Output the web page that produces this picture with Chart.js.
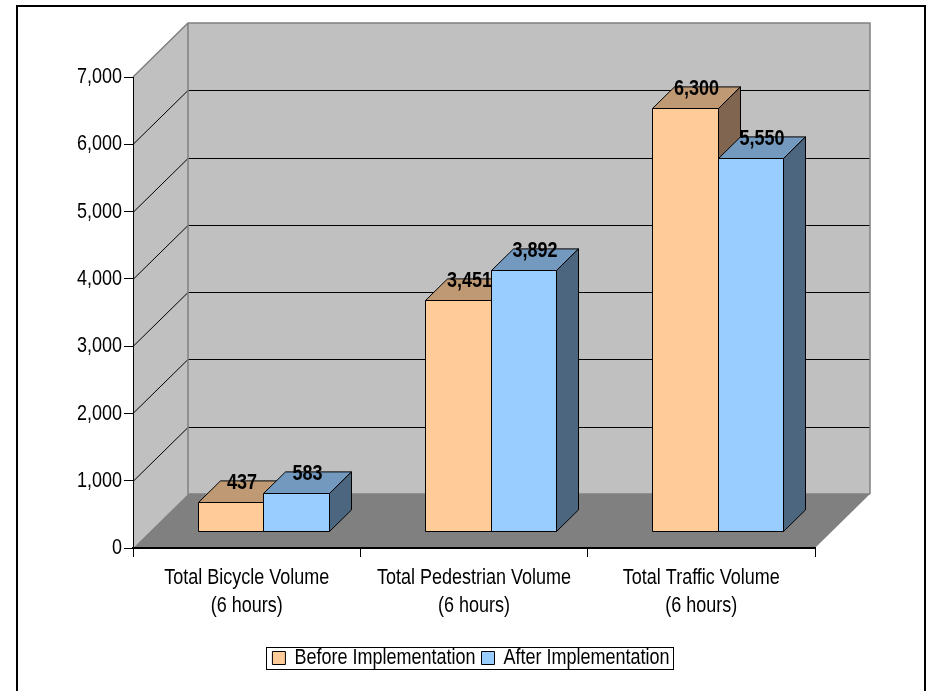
<!DOCTYPE html>
<html>
<head>
<meta charset="utf-8">
<script src="https://cdn.jsdelivr.net/npm/chart.js@4.4.1/dist/chart.umd.min.js"></script>
<style>
  html, body { margin: 0; padding: 0; background: #fff; }
  canvas { display: block; }
</style>
</head>
<body>
<canvas id="c" width="932" height="691"></canvas>
<script>
// Category labels (two lines each), series names and values
const categories = [
  ['Total Bicycle Volume', '(6 hours)'],
  ['Total Pedestrian Volume', '(6 hours)'],
  ['Total Traffic Volume', '(6 hours)']
];
const seriesNames = ['Before Implementation', 'After Implementation'];
const beforeValues = [437, 3451, 6300];
const afterValues = [583, 3892, 5550];
const yTickValues = [0, 1000, 2000, 3000, 4000, 5000, 6000, 7000];

const FONT = "'Liberation Sans', Arial, sans-serif";

// front / top / side shades for each series
const faceColors = [
  { front: '#FFCC99', top: '#BF9973', side: '#806650' },
  { front: '#99CCFF', top: '#7399BF', side: '#4D6680' }
];

// depth of the plot box and where the bars sit inside it
const DEPTH = { x: 55, y: -54 };
const BAR_FRONT = 0.3, BAR_BACK = 0.7;

// tall, narrow lettering: each string is stretched vertically about its anchor
const TEXT_STRETCH = 1.25;
const canvas = document.getElementById('c');
const ctx2d = canvas.getContext('2d');
const plainFillText = ctx2d.fillText.bind(ctx2d);
ctx2d.fillText = function (text, x, y, maxWidth) {
  this.save();
  this.translate(x, y);
  this.scale(1, TEXT_STRETCH);
  if (maxWidth === undefined) plainFillText(text, 0, 0);
  else plainFillText(text, 0, 0, maxWidth);
  this.restore();
};

function poly(ctx, pts) {
  ctx.beginPath();
  ctx.moveTo(pts[0][0], pts[0][1]);
  for (let i = 1; i < pts.length; i++) ctx.lineTo(pts[i][0], pts[i][1]);
  ctx.closePath();
}

const fmt = v => v.toLocaleString('en-US');

const threeD = {
  id: 'threeD',
  beforeDraw(chart) {
    const { ctx, chartArea: a, scales: { y } } = chart;
    ctx.save();

    // outer frame
    ctx.strokeStyle = '#000';
    ctx.lineWidth = 2;
    ctx.beginPath();
    ctx.moveTo(17, 700); ctx.lineTo(17, 6); ctx.lineTo(925, 6); ctx.lineTo(925, 700);
    ctx.stroke();

    const L = a.left, R = a.right;
    const T = y.getPixelForValue(yTickValues[yTickValues.length - 1]);
    const B = y.getPixelForValue(0);
    const dx = DEPTH.x, dy = DEPTH.y;

    // back wall and side wall
    ctx.fillStyle = '#C0C0C0';
    ctx.fillRect(L + dx, T + dy, R - L, B - T);
    poly(ctx, [[L, T], [L + dx, T + dy], [L + dx, B + dy], [L, B]]);
    ctx.fill();

    // floor
    ctx.fillStyle = '#808080';
    poly(ctx, [[L, B], [L + dx, B + dy], [R + dx, B + dy], [R, B]]);
    ctx.fill();

    // gridlines running along the side wall and across the back wall
    ctx.strokeStyle = '#000';
    ctx.lineWidth = 1;
    yTickValues.slice(1, -1).forEach(v => {
      const p = Math.round(y.getPixelForValue(v)) + 0.5;
      ctx.beginPath();
      ctx.moveTo(L, p);
      ctx.lineTo(L + dx, p + dy);
      ctx.lineTo(R + dx, p + dy);
      ctx.stroke();
    });

    // wall edges
    ctx.strokeStyle = '#808080';
    ctx.lineWidth = 1.5;
    ctx.beginPath();
    ctx.moveTo(L, T); ctx.lineTo(L + dx, T + dy); ctx.lineTo(R + dx, T + dy); ctx.lineTo(R + dx, B + dy);
    ctx.moveTo(L + dx, T + dy); ctx.lineTo(L + dx, B + dy); ctx.lineTo(R + dx, B + dy);
    ctx.stroke();

    ctx.restore();
  },
  beforeDatasetsDraw(chart) {
    const ctx = chart.ctx;
    const metas = chart.data.datasets.map((d, i) => chart.getDatasetMeta(i));
    const fx = DEPTH.x * BAR_FRONT, fy = DEPTH.y * BAR_FRONT;
    const bx = DEPTH.x * (BAR_BACK - BAR_FRONT), by = DEPTH.y * (BAR_BACK - BAR_FRONT);
    ctx.save();
    ctx.lineWidth = 1;
    ctx.strokeStyle = '#000';
    ctx.lineJoin = 'round';
    for (let i = 0; i < categories.length; i++) {
      metas.forEach((meta, di) => {
        const el = meta.data[i];
        const { x, y, base, width } = el.getProps(['x', 'y', 'base', 'width'], true);
        const l = Math.round(x - width / 2 + fx) + 0.5;
        const r = Math.round(x + width / 2 + fx) + 0.5;
        const t = Math.round(y + fy) + 0.5;
        const b = Math.round(base + fy) + 0.5;
        const c = faceColors[di];

        ctx.fillStyle = c.top;
        poly(ctx, [[l, t], [r, t], [r + bx, t + by], [l + bx, t + by]]);
        ctx.fill(); ctx.stroke();

        ctx.fillStyle = c.side;
        poly(ctx, [[r, t], [r + bx, t + by], [r + bx, b + by], [r, b]]);
        ctx.fill(); ctx.stroke();

        ctx.fillStyle = c.front;
        poly(ctx, [[l, t], [r, t], [r, b], [l, b]]);
        ctx.fill(); ctx.stroke();

        const v = chart.data.datasets[di].data[i];
        ctx.fillStyle = '#000';
        ctx.font = 'bold 18px ' + FONT;
        ctx.textAlign = 'center';
        ctx.textBaseline = 'middle';
        ctx.fillText(fmt(v), (l + r) / 2 + bx / 2, t + by / 2 - 9);
      });
    }
    ctx.restore();
    return false;
  },
  afterDraw(chart) {
    const { ctx, legend } = chart;
    const hb = legend.legendHitBoxes;
    if (!hb || !hb.length) return;
    const left = Math.round(Math.min(...hb.map(h => h.left)) - 6) + 0.5;
    const right = Math.round(Math.max(...hb.map(h => h.left + h.width)) + 3) + 0.5;
    const top = Math.round(hb[0].top - 2) + 0.5;
    const bottom = Math.round(hb[0].top + hb[0].height + 2) + 0.5;
    ctx.save();
    ctx.strokeStyle = '#000';
    ctx.lineWidth = 1;
    ctx.strokeRect(left, top, right - left, bottom - top);
    ctx.restore();
  }
};

new Chart(canvas, {
  type: 'bar',
  data: {
    labels: categories,
    datasets: [
      { label: seriesNames[0], data: beforeValues, backgroundColor: faceColors[0].front, borderColor: '#000', borderWidth: 1 },
      { label: seriesNames[1], data: afterValues, backgroundColor: faceColors[1].front, borderColor: '#000', borderWidth: 1 }
    ]
  },
  options: {
    responsive: false,
    animation: false,
    devicePixelRatio: 1,
    datasets: { bar: { categoryPercentage: 0.575, barPercentage: 1 } },
    layout: { padding: { left: 17, right: 7, top: 77, bottom: 14 } },
    plugins: {
      tooltip: { enabled: false },
      legend: {
        position: 'bottom',
        labels: {
          color: '#000',
          font: { family: FONT, size: 18 },
          boxWidth: 13,
          boxHeight: 13,
          padding: 6
        }
      }
    },
    scales: {
      x: {
        offset: true,
        grid: { offset: true, drawOnChartArea: false, drawTicks: true, tickLength: 9, color: '#000', lineWidth: 1 },
        border: { color: '#000', width: 2 },
        ticks: { color: '#000', font: { family: FONT, size: 18, lineHeight: '28px' }, padding: 7, maxRotation: 0, autoSkip: false },
        afterFit(s) { s.height = 95; }
      },
      y: {
        min: 0,
        max: 7000,
        afterBuildTicks(s) { s.ticks = yTickValues.map(v => ({ value: v })); },
        grid: { drawOnChartArea: false, drawTicks: true, tickLength: 9, color: '#000' },
        border: { color: '#000', width: 1 },
        ticks: { color: '#000', font: { family: FONT, size: 18 }, padding: 2, callback: v => fmt(v) },
        afterFit(s) { s.width = 116; }
      },
      yRight: {
        type: 'linear',
        position: 'right',
        display: true,
        grid: { display: false },
        border: { display: false },
        ticks: { display: false },
        afterFit(s) { s.width = 110; }
      }
    }
  },
  plugins: [threeD]
});
</script>
</body>
</html>
